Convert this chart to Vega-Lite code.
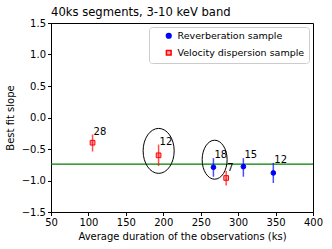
{
  "$schema": "https://vega.github.io/schema/vega-lite/v6.json",
  "width": 262,
  "height": 189,
  "autosize": {"type": "none"},
  "padding": {"left": 51, "top": 23, "right": 19, "bottom": 37},
  "config": {
    "font": "DejaVu Sans",
    "view": {"stroke": "black", "strokeWidth": 1},
    "axis": {"grid": false, "domainColor": "black", "tickColor": "black", "labelColor": "black", "titleColor": "black", "labelFontSize": 10, "titleFontSize": 10, "titleFontWeight": "normal", "tickSize": 3.5, "labelFont": "DejaVu Sans", "titleFont": "DejaVu Sans", "labelOverlap": false, "labelFlush": false, "labelBound": false},
    "legend": {"orient": "top-right", "offset": 4, "strokeColor": "#cccccc", "fillColor": "white", "padding": 4, "cornerRadius": 3, "labelFontSize": 9.5, "labelFont": "DejaVu Sans", "labelColor": "black", "symbolSize": 22, "symbolOffset": 11, "labelOffset": 4, "rowPadding": 5}
  },
  "title": {"text": "40ks segments, 3-10 keV band", "anchor": "start", "frame": "group", "fontSize": 11.6, "fontWeight": "normal", "font": "DejaVu Sans", "color": "black", "offset": -1},
  "datasets": {
    "pts": [
      {"dur": 267, "slope": -0.79, "lo": -0.94, "hi": -0.645, "n": 18, "sample": "Reverberation sample"},
      {"dur": 307, "slope": -0.78, "lo": -0.94, "hi": -0.645, "n": 15, "sample": "Reverberation sample"},
      {"dur": 347, "slope": -0.88, "lo": -1.04, "hi": -0.72, "n": 12, "sample": "Reverberation sample"},
      {"dur": 105.5, "slope": -0.40, "lo": -0.54, "hi": -0.27, "n": 28, "sample": "Velocity dispersion sample"},
      {"dur": 193.7, "slope": -0.60, "lo": -0.77, "hi": -0.43, "n": 12, "sample": "Velocity dispersion sample"},
      {"dur": 284, "slope": -0.96, "lo": -1.08, "hi": -0.85, "n": 7, "sample": "Velocity dispersion sample"}
    ]
  },
  "encoding": {
    "x": {"type": "quantitative", "scale": {"domain": [50, 400], "nice": false, "zero": false}, "axis": {"values": [50, 100, 150, 200, 250, 300, 350, 400], "title": "Average duration of the observations (ks)", "titlePadding": 4, "labelPadding": 2, "labelOverlap": false}},
    "y": {"type": "quantitative", "scale": {"domain": [-1.5, 1.5], "nice": false}, "axis": {"values": [-1.5, -1.0, -0.5, 0.0, 0.5, 1.0, 1.5], "format": ".1f", "title": "Best fit slope", "titlePadding": 6, "labelPadding": 2, "labelOverlap": false}}
  },
  "layer": [
    {
      "data": {"values": [{"fit": -0.74}]},
      "mark": {"type": "rule", "color": "green", "strokeWidth": 1.2},
      "encoding": {"x": null, "y": {"field": "fit", "type": "quantitative"}}
    },
    {
      "data": {"name": "pts"},
      "transform": [{"filter": "datum.sample == 'Reverberation sample'"}],
      "mark": {"type": "rule", "strokeWidth": 1.5, "color": "blue", "opacity": 0.7},
      "encoding": {
        "x": {"field": "dur", "type": "quantitative"},
        "y": {"field": "lo", "type": "quantitative"},
        "y2": {"field": "hi"}
      }
    },
    {
      "data": {"name": "pts"},
      "transform": [{"filter": "datum.sample == 'Velocity dispersion sample'"}],
      "mark": {"type": "rule", "strokeWidth": 1.5, "color": "red", "opacity": 0.7},
      "encoding": {
        "x": {"field": "dur", "type": "quantitative"},
        "y": {"field": "lo", "type": "quantitative"},
        "y2": {"field": "hi"}
      }
    },
    {
      "data": {"name": "pts"},
      "mark": {"type": "point", "size": 22, "strokeWidth": 1, "opacity": 1},
      "encoding": {
        "x": {"field": "dur", "type": "quantitative"},
        "y": {"field": "slope", "type": "quantitative"},
        "shape": {"field": "sample", "type": "nominal", "scale": {"domain": ["Reverberation sample", "Velocity dispersion sample"], "range": ["circle", "square"]}, "legend": {"title": null}},
        "fill": {"field": "sample", "type": "nominal", "scale": {"domain": ["Reverberation sample", "Velocity dispersion sample"], "range": ["blue", "rgba(255,0,0,0.35)"]}, "legend": {"title": null}},
        "stroke": {"field": "sample", "type": "nominal", "scale": {"domain": ["Reverberation sample", "Velocity dispersion sample"], "range": ["blue", "red"]}, "legend": {"title": null}}
      }
    },
    {
      "data": {"name": "pts"},
      "mark": {"type": "text", "align": "left", "baseline": "alphabetic", "dx": 1, "fontSize": 10, "color": "black"},
      "encoding": {
        "x": {"field": "dur", "type": "quantitative"},
        "y": {"field": "hi", "type": "quantitative"},
        "text": {"field": "n", "type": "quantitative"}
      }
    },
    {
      "data": {"values": [{"cx": 193.8, "cy": -0.53}]},
      "mark": {"type": "point", "shape": "M -0.69 0 A 0.69 1 0 1 1 0.69 0 A 0.69 1 0 1 1 -0.69 0 Z", "size": 2025, "stroke": "black", "strokeWidth": 1, "filled": false, "opacity": 1},
      "encoding": {
        "x": {"field": "cx", "type": "quantitative"},
        "y": {"field": "cy", "type": "quantitative"}
      }
    },
    {
      "data": {"values": [{"cx": 268.6, "cy": -0.67}]},
      "mark": {"type": "point", "shape": "M -0.64 0 A 0.64 1 0 1 1 0.64 0 A 0.64 1 0 1 1 -0.64 0 Z", "size": 1521, "stroke": "black", "strokeWidth": 1, "filled": false, "opacity": 1},
      "encoding": {
        "x": {"field": "cx", "type": "quantitative"},
        "y": {"field": "cy", "type": "quantitative"}
      }
    }
  ]
}
